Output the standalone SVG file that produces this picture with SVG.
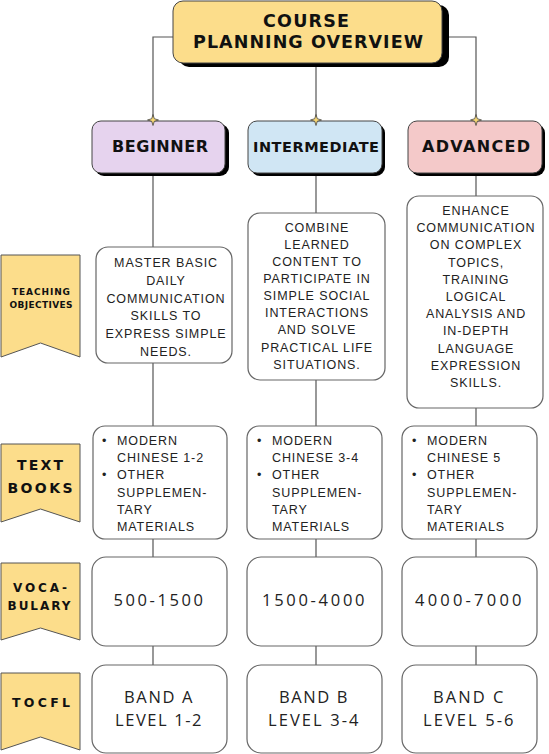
<svg xmlns="http://www.w3.org/2000/svg" width="549" height="754" viewBox="0 0 549 754">
<defs>
<style>
.bg{fill:#ffffff}
.conn{stroke:#555;stroke-width:1.2;fill:none}
.shadow{fill:#000}
.lvl{stroke:#444;stroke-width:1}
.box{fill:#fff;stroke:#666;stroke-width:1.2}
.ban{fill:#FCDD8B;stroke:#555;stroke-width:1}
.h{font-family:"DejaVu Sans",Inter,sans-serif;font-weight:bold;fill:#111;text-anchor:middle}
.b{font-family:"Liberation Sans",Arial,sans-serif;font-size:12.5px;fill:#222;text-anchor:middle;letter-spacing:0.9px}
.l{font-family:"Liberation Sans",Arial,sans-serif;font-size:12.5px;fill:#222;letter-spacing:0.9px}
.n{font-family:"Open Sans","DejaVu Sans",sans-serif;font-size:16.5px;fill:#222;text-anchor:middle;letter-spacing:1.5px}
.star{fill:#F7D774;stroke:#444;stroke-width:0.8}
</style>
<path id="star" d="M0,-5.5 L1.3,-1.3 L5.5,0 L1.3,1.3 L0,5.5 L-1.3,1.3 L-5.5,0 L-1.3,-1.3 Z"/>
</defs>
<rect class="bg" x="0" y="0" width="549" height="754"/>

<g id="connectors">
<path class="conn" d="M173,37 H153 V120"/>
<path class="conn" d="M316,63 V120"/>
<path class="conn" d="M443,37 H476 V120"/>
<path class="conn" d="M153,173 V247 M153,363 V426 M153,539 V557 M153,646 V665"/>
<path class="conn" d="M316,173 V213 M316,380 V426 M316,539 V557 M316,646 V665"/>
<path class="conn" d="M476,173 V196 M476,408 V426 M476,539 V557 M476,646 V665"/>
</g>

<g id="title">
<rect class="shadow" x="179" y="5" width="270" height="62" rx="10"/>
<rect x="173" y="1" width="269" height="62" rx="10" fill="#FCDD8B" stroke="#444" stroke-width="1"/>
<text class="h" x="306" y="27" font-size="17.5" textLength="86" lengthAdjust="spacing">COURSE</text>
<text class="h" x="308" y="48" font-size="17.5" textLength="230" lengthAdjust="spacing">PLANNING OVERVIEW</text>
</g>

<g id="beginner">
<rect class="shadow" x="95" y="124" width="134" height="52" rx="9"/>
<rect class="lvl" x="92" y="121" width="133" height="52" rx="9" fill="#E6D3EE"/>
<text class="h" x="160" y="152" font-size="16" textLength="96" lengthAdjust="spacing">BEGINNER</text>
</g>
<g id="intermediate">
<rect class="shadow" x="251" y="124" width="134" height="52" rx="9"/>
<rect class="lvl" x="248" y="121" width="134" height="52" rx="9" fill="#D0E6F4"/>
<text class="h" x="316" y="152" font-size="14.5" textLength="126" lengthAdjust="spacing">INTERMEDIATE</text>
</g>
<g id="advanced">
<rect class="shadow" x="411" y="124" width="134" height="52" rx="9"/>
<rect class="lvl" x="408" y="121" width="134" height="52" rx="9" fill="#F4C9C9"/>
<text class="h" x="476" y="152" font-size="16" textLength="108" lengthAdjust="spacing">ADVANCED</text>
</g>

<g id="stars">
<use href="#star" class="star" x="153" y="120"/>
<use href="#star" class="star" x="316" y="120"/>
<use href="#star" class="star" x="476" y="120"/>
</g>

<g id="banner-objectives">
<path class="ban" d="M1,255 H80 V357 L40.5,343 L1,357 Z"/>
<text class="h" x="41" y="295" font-size="9" textLength="58" lengthAdjust="spacing">TEACHING</text>
<text class="h" x="41" y="308" font-size="9" textLength="63" lengthAdjust="spacing">OBJECTIVES</text>
</g>
<g id="banner-textbooks">
<path class="ban" d="M1,444 H80 V522 L40.5,509 L1,522 Z"/>
<text class="h" x="40" y="470" font-size="14" textLength="46" lengthAdjust="spacing">TEXT</text>
<text class="h" x="40" y="493" font-size="14" textLength="65" lengthAdjust="spacing">BOOKS</text>
</g>
<g id="banner-vocabulary">
<path class="ban" d="M1,563 H80 V640 L40.5,628 L1,640 Z"/>
<text class="h" x="40" y="592" font-size="12" textLength="54" lengthAdjust="spacing">VOCA-</text>
<text class="h" x="39" y="610" font-size="12" textLength="63" lengthAdjust="spacing">BULARY</text>
</g>
<g id="banner-tocfl">
<path class="ban" d="M1,673 H80 V750 L40.5,737 L1,750 Z"/>
<text class="h" x="41" y="707" font-size="12.5" textLength="58" lengthAdjust="spacing">TOCFL</text>
</g>

<g id="obj-beginner">
<rect class="box" x="96" y="247" width="136" height="116" rx="12"/>
<text class="b" x="166" y="267">MASTER BASIC</text>
<text class="b" x="166" y="285">DAILY</text>
<text class="b" x="166" y="303">COMMUNICATION</text>
<text class="b" x="166" y="320">SKILLS TO</text>
<text class="b" x="166" y="338">EXPRESS SIMPLE</text>
<text class="b" x="166" y="356">NEEDS.</text>
</g>
<g id="obj-intermediate">
<rect class="box" x="248" y="213" width="137" height="167" rx="12"/>
<text class="b" x="317" y="232">COMBINE</text>
<text class="b" x="317" y="249">LEARNED</text>
<text class="b" x="317" y="266">CONTENT TO</text>
<text class="b" x="317" y="283">PARTICIPATE IN</text>
<text class="b" x="317" y="300">SIMPLE SOCIAL</text>
<text class="b" x="317" y="317">INTERACTIONS</text>
<text class="b" x="317" y="334">AND SOLVE</text>
<text class="b" x="317" y="352">PRACTICAL LIFE</text>
<text class="b" x="317" y="369">SITUATIONS.</text>
</g>
<g id="obj-advanced">
<rect class="box" x="407" y="196" width="136" height="212" rx="12"/>
<text class="b" x="476" y="215">ENHANCE</text>
<text class="b" x="476" y="232">COMMUNICATION</text>
<text class="b" x="476" y="249">ON COMPLEX</text>
<text class="b" x="476" y="267">TOPICS,</text>
<text class="b" x="476" y="284">TRAINING</text>
<text class="b" x="476" y="301">LOGICAL</text>
<text class="b" x="476" y="318">ANALYSIS AND</text>
<text class="b" x="476" y="335">IN-DEPTH</text>
<text class="b" x="476" y="353">LANGUAGE</text>
<text class="b" x="476" y="370">EXPRESSION</text>
<text class="b" x="476" y="387">SKILLS.</text>
</g>

<g id="tb-beginner">
<rect class="box" x="93" y="426" width="134" height="113" rx="12"/>
<text class="l" x="102" y="445">•</text><text class="l" x="117" y="445">MODERN</text>
<text class="l" x="117" y="462">CHINESE 1-2</text>
<text class="l" x="102" y="479">•</text><text class="l" x="117" y="479">OTHER</text>
<text class="l" x="117" y="497">SUPPLEMEN-</text>
<text class="l" x="117" y="514">TARY</text>
<text class="l" x="117" y="531">MATERIALS</text>
</g>
<g id="tb-intermediate">
<rect class="box" x="247" y="426" width="135" height="113" rx="12"/>
<text class="l" x="257" y="445">•</text><text class="l" x="272" y="445">MODERN</text>
<text class="l" x="272" y="462">CHINESE 3-4</text>
<text class="l" x="257" y="479">•</text><text class="l" x="272" y="479">OTHER</text>
<text class="l" x="272" y="497">SUPPLEMEN-</text>
<text class="l" x="272" y="514">TARY</text>
<text class="l" x="272" y="531">MATERIALS</text>
</g>
<g id="tb-advanced">
<rect class="box" x="402" y="426" width="135" height="113" rx="12"/>
<text class="l" x="412" y="445">•</text><text class="l" x="427" y="445">MODERN</text>
<text class="l" x="427" y="462">CHINESE 5</text>
<text class="l" x="412" y="479">•</text><text class="l" x="427" y="479">OTHER</text>
<text class="l" x="427" y="497">SUPPLEMEN-</text>
<text class="l" x="427" y="514">TARY</text>
<text class="l" x="427" y="531">MATERIALS</text>
</g>

<g id="voc-beginner">
<rect class="box" x="92" y="557" width="135" height="89" rx="14"/>
<text class="n" x="159" y="606" textLength="91" lengthAdjust="spacing">500-1500</text>
</g>
<g id="voc-intermediate">
<rect class="box" x="247" y="557" width="135" height="89" rx="14"/>
<text class="n" x="314" y="606" textLength="104" lengthAdjust="spacing">1500-4000</text>
</g>
<g id="voc-advanced">
<rect class="box" x="402" y="557" width="135" height="89" rx="14"/>
<text class="n" x="469" y="606" textLength="108" lengthAdjust="spacing">4000-7000</text>
</g>

<g id="tocfl-beginner">
<rect class="box" x="92" y="665" width="135" height="88" rx="14"/>
<text class="n" x="159" y="703" textLength="70" lengthAdjust="spacing">BAND A</text>
<text class="n" x="159" y="726" textLength="88" lengthAdjust="spacing">LEVEL 1-2</text>
</g>
<g id="tocfl-intermediate">
<rect class="box" x="247" y="665" width="135" height="88" rx="14"/>
<text class="n" x="314" y="703" textLength="70" lengthAdjust="spacing">BAND B</text>
<text class="n" x="314" y="726" textLength="92" lengthAdjust="spacing">LEVEL 3-4</text>
</g>
<g id="tocfl-advanced">
<rect class="box" x="402" y="665" width="135" height="88" rx="14"/>
<text class="n" x="469" y="703" textLength="72" lengthAdjust="spacing">BAND C</text>
<text class="n" x="469" y="726" textLength="92" lengthAdjust="spacing">LEVEL 5-6</text>
</g>
</svg>
